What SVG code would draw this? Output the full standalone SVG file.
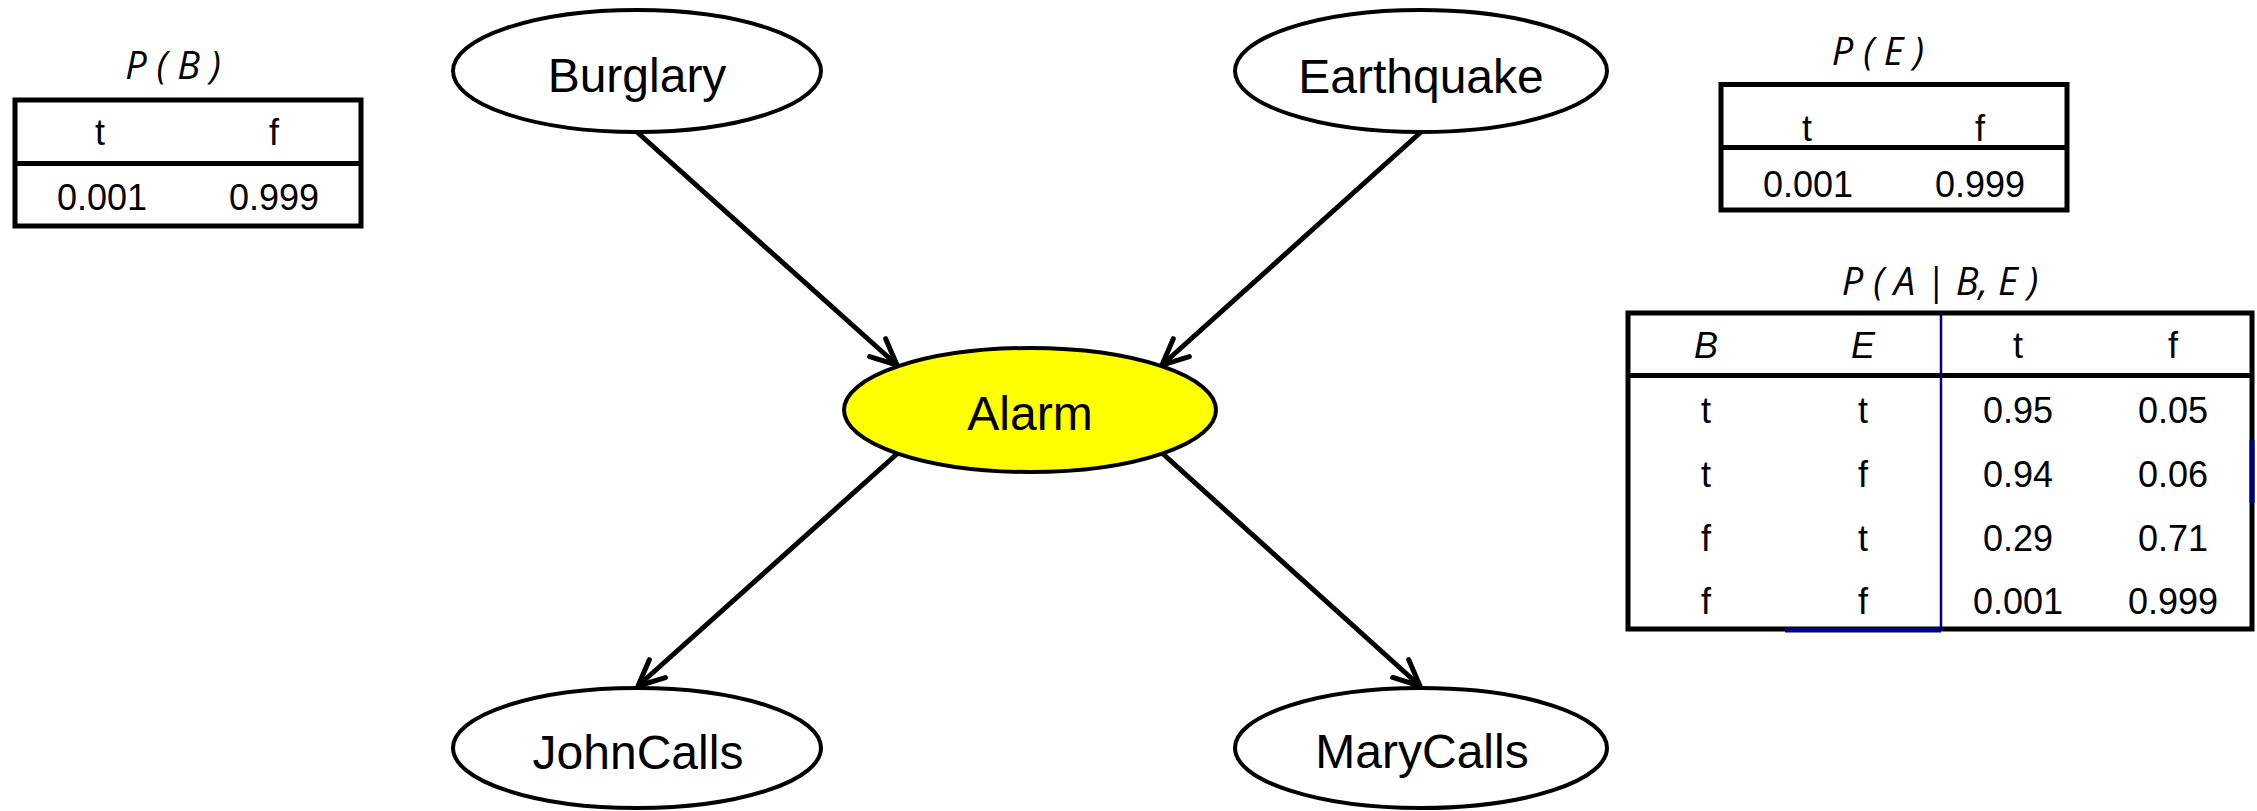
<svg xmlns="http://www.w3.org/2000/svg" width="2257" height="811" viewBox="0 0 2257 811">
<style>
.node{fill:#fff;stroke:#000;stroke-width:4}
.alarm{fill:#ffff00}
.lbl{font-family:"Liberation Sans",Arial,sans-serif;font-size:48px;text-anchor:middle;fill:#000}
.edge{stroke:#000;stroke-width:5;fill:none}
.tbl{fill:#fff;stroke:#000;stroke-width:5}
.rule{stroke:#000;stroke-width:5}
.cell{font-family:"Liberation Sans",Arial,sans-serif;font-size:36px;text-anchor:middle;fill:#000}
.ital{font-style:italic}
.title{font-family:"Open Sans","Noto Sans",sans-serif;font-style:italic;font-size:38px;text-anchor:middle;fill:#000}
.blue{stroke:#000080}
</style>
<defs>
<marker id="arr" markerUnits="userSpaceOnUse" markerWidth="44" markerHeight="44" viewBox="-32 -22 44 44" refX="0" refY="0" orient="auto">
<path d="M-26,-12 L0,0 L-26,12" fill="none" stroke="#000" stroke-width="5" stroke-linecap="round" stroke-linejoin="round"/>
</marker>
</defs>
<g id="connectors">
<line class="edge" x1="637" y1="132" x2="897" y2="365" marker-end="url(#arr)"/>
<line class="edge" x1="1421" y1="132" x2="1162" y2="365" marker-end="url(#arr)"/>
<line class="edge" x1="898" y1="453" x2="638" y2="686" marker-end="url(#arr)"/>
<line class="edge" x1="1162" y1="453" x2="1420" y2="686" marker-end="url(#arr)"/>
</g>
<g id="burglary">
<ellipse class="node" cx="637" cy="71" rx="184" ry="61"/>
<text class="lbl" x="637" y="92">Burglary</text>
</g>
<g id="earthquake">
<ellipse class="node" cx="1421" cy="71" rx="186" ry="61"/>
<text class="lbl" x="1421" y="93">Earthquake</text>
</g>
<g id="alarm">
<ellipse class="node alarm" cx="1030" cy="410" rx="186" ry="62"/>
<text class="lbl" x="1030" y="430">Alarm</text>
</g>
<g id="johncalls">
<ellipse class="node" cx="637" cy="748" rx="184" ry="60"/>
<text class="lbl" x="638" y="769">JohnCalls</text>
</g>
<g id="marycalls">
<ellipse class="node" cx="1421" cy="748" rx="186" ry="60"/>
<text class="lbl" x="1422" y="768">MaryCalls</text>
</g>
<g id="table-pb">
<text class="title" x="173" y="79">P ( B )</text>
<rect class="tbl" x="15" y="100" width="346" height="126"/>
<line class="rule" x1="15" y1="163.5" x2="361" y2="163.5"/>
<text class="cell" x="100" y="145">t</text>
<text class="cell" x="274" y="145">f</text>
<text class="cell" x="102" y="210">0.001</text>
<text class="cell" x="274" y="210">0.999</text>
</g>
<g id="table-pe">
<text class="title" x="1878" y="65">P ( E )</text>
<rect class="tbl" x="1721" y="84.5" width="346" height="125.5"/>
<line class="rule" x1="1721" y1="147.5" x2="2067" y2="147.5"/>
<text class="cell" x="1807" y="141">t</text>
<text class="cell" x="1980" y="141">f</text>
<text class="cell" x="1808" y="197">0.001</text>
<text class="cell" x="1980" y="197">0.999</text>
</g>
<g id="table-pa">
<text class="title" x="1940" y="295">P ( A | B, E )</text>
<rect class="tbl" x="1628" y="313" width="624" height="316"/>
<line class="rule" x1="1628" y1="375.5" x2="2252" y2="375.5"/>
<line class="blue" x1="1941" y1="313" x2="1941" y2="631" stroke-width="2.5"/>
<line class="blue" x1="1785" y1="630" x2="1941" y2="630" stroke-width="5"/>
<line class="blue" x1="2252" y1="440" x2="2252" y2="503" stroke-width="5"/>
<text class="cell ital" x="1706" y="358">B</text>
<text class="cell ital" x="1863" y="358">E</text>
<text class="cell" x="2018" y="358">t</text>
<text class="cell" x="2173" y="358">f</text>
<text class="cell" x="1706" y="423">t</text>
<text class="cell" x="1863" y="423">t</text>
<text class="cell" x="2018" y="423">0.95</text>
<text class="cell" x="2173" y="423">0.05</text>
<text class="cell" x="1706" y="487">t</text>
<text class="cell" x="1863" y="487">f</text>
<text class="cell" x="2018" y="487">0.94</text>
<text class="cell" x="2173" y="487">0.06</text>
<text class="cell" x="1706" y="551">f</text>
<text class="cell" x="1863" y="551">t</text>
<text class="cell" x="2018" y="551">0.29</text>
<text class="cell" x="2173" y="551">0.71</text>
<text class="cell" x="1706" y="614">f</text>
<text class="cell" x="1863" y="614">f</text>
<text class="cell" x="2018" y="614">0.001</text>
<text class="cell" x="2173" y="614">0.999</text>
</g>
</svg>
